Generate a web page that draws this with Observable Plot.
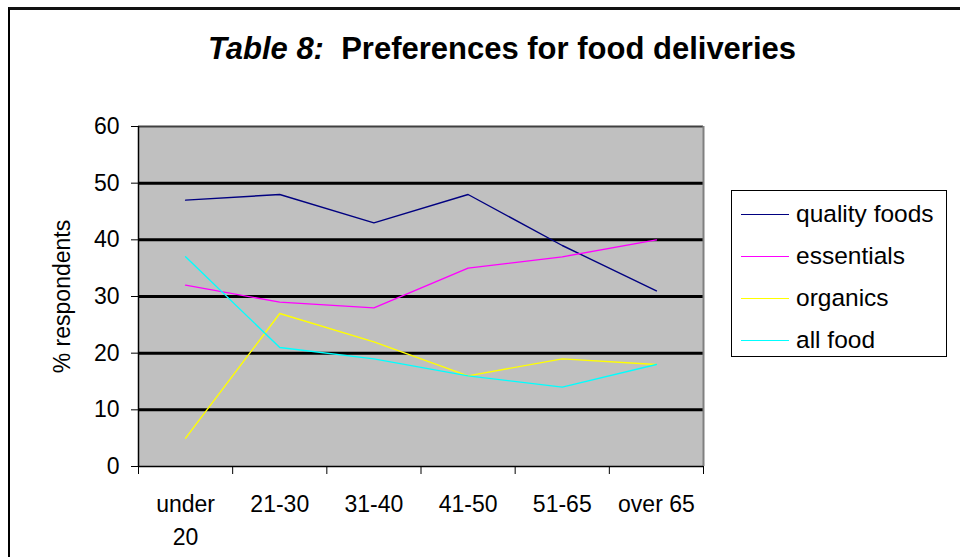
<!DOCTYPE html>
<html>
<head>
<meta charset="utf-8">
<script src="https://cdn.jsdelivr.net/npm/d3@7"></script>
<script src="https://cdn.jsdelivr.net/npm/@observablehq/plot@0.6"></script>
<style>
  html, body { margin: 0; padding: 0; background: #fff; overflow: hidden; width: 960px; height: 557px; }
  #wrap { position: relative; width: 960px; height: 557px; font-family: "Liberation Sans", Arial, sans-serif; }
  #frame { position: absolute; left: 8px; top: 7px; width: 2000px; height: 2000px; border-left: 2px solid #000; border-top: 3px solid #111; }
  #title { position: absolute; left: 22px; top: 31px; width: 960px; text-align: center; font-weight: bold; font-size: 31px; line-height: 36px; color: #000; white-space: pre; }
  #chart { position: absolute; left: 0; top: 0; }
  #legend { position: absolute; left: 731px; top: 190px; width: 214px; height: 165px; border: 1.5px solid #000; background: #fff; }
  .row { position: absolute; left: 9px; height: 30px; display: flex; align-items: center; font-size: 24.5px; color: #000; }
  .sw { width: 48px; height: 0; border-top: 1.5px solid; margin-right: 7px; }
</style>
</head>
<body>
<div id="wrap">
  <div id="frame"></div>
  <div id="title"><i>Table 8:</i>  Preferences for food deliveries</div>
  <div id="chart"></div>
  <div id="legend"></div>
</div>
<script>
const categories = ["under 20", "21-30", "31-40", "41-50", "51-65", "over 65"];
const xLabels = ["under\n20", "21-30", "31-40", "41-50", "51-65", "over 65"];
const seriesNames = ["quality foods", "essentials", "organics", "all food"];
const seriesColors = ["#000080", "#FF00FF", "#FFFF00", "#00FFFF"];
const qualityFoods = [47, 48, 43, 48, 39, 31];
const essentials = [32, 29, 28, 35, 37, 40];
const organics = [5, 27, 22, 16, 19, 18];
const allFood = [37, 21, 19, 16, 14, 18];
const yTicks = [0, 10, 20, 30, 40, 50, 60];
const gridValues = [10, 20, 30, 40, 50];

const seriesValues = [qualityFoods, essentials, organics, allFood];
const data = [];
seriesNames.forEach((s, si) => {
  categories.forEach((c, i) => data.push({series: s, idx: i, category: c, value: seriesValues[si][i]}));
});

const xDomain = [-0.5, categories.length - 0.5];
const boundaries = d3.range(categories.length + 1).map(i => i - 0.5);

const chart = Plot.plot({
  width: 960,
  height: 557,
  marginLeft: 138,
  marginRight: 257,
  marginTop: 126,
  marginBottom: 91,
  style: { fontFamily: "'Liberation Sans', Arial, sans-serif", fontSize: "23px", color: "#000", background: "transparent", overflow: "visible" },
  x: { type: "linear", domain: xDomain },
  y: { domain: [0, 60] },
  color: { domain: seriesNames, range: seriesColors },
  marks: [
    Plot.frame({ fill: "#c0c0c0" }),
    Plot.ruleY(gridValues, { stroke: "#000", strokeWidth: 3 }),
    Plot.ruleY([60], { stroke: "#404040", strokeWidth: 2 }),
    Plot.ruleX([xDomain[1]], { stroke: "#808080", strokeWidth: 2 }),
    Plot.line(data, { x: "idx", y: "value", z: "series", stroke: "series", strokeWidth: 1.4 }),
    Plot.ruleY([0], { stroke: "#000", strokeWidth: 1.5 }),
    Plot.ruleX([xDomain[0]], { stroke: "#000", strokeWidth: 1.5 }),
    Plot.axisY({ ticks: yTicks, tickSize: 7, tickPadding: 12, label: null, fontSize: 23 }),
    Plot.axisX({ ticks: d3.range(categories.length), tickFormat: i => xLabels[i], tickSize: 0, tickPadding: 23, lineHeight: 1.4, label: null, fontSize: 23 }),
    Plot.axisX({ ticks: boundaries, tickFormat: () => "", tickSize: 8, label: null }),
    Plot.text(["% respondents"], { frameAnchor: "left", textAnchor: "middle", rotate: -90, dx: -76, fontSize: 23 })
  ]
});
document.getElementById("chart").appendChild(chart);

const legend = document.getElementById("legend");
seriesNames.forEach((s, i) => {
  const row = document.createElement("div");
  row.className = "row";
  row.style.top = (8 + i * 42) + "px";
  const sw = document.createElement("div");
  sw.className = "sw";
  sw.style.borderTopColor = seriesColors[i];
  const t = document.createElement("span");
  t.textContent = s;
  row.appendChild(sw);
  row.appendChild(t);
  legend.appendChild(row);
});
</script>
</body>
</html>
